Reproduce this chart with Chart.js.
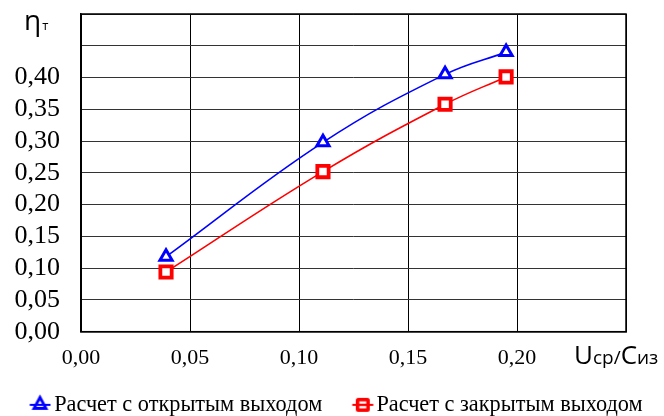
<!DOCTYPE html>
<html>
<head>
<meta charset="utf-8">
<script src="https://cdn.jsdelivr.net/npm/chart.js@4.4.1/dist/chart.umd.min.js"></script>
<style>
  html, body { margin: 0; padding: 0; background: #fff; }
  #wrap { width: 664px; height: 416px; position: relative; }
</style>
</head>
<body>
<div id="wrap"><canvas id="c" width="664" height="416"></canvas></div>
<script>
// ---- data ----
const xValues = [0.039, 0.111, 0.167, 0.195];
const openExit = [0.118, 0.298, 0.405, 0.440];
const closedExit = [0.094, 0.252, 0.358, 0.401];
const seriesNames = ['Расчет с открытым выходом', 'Расчет с закрытым выходом'];
const yTickValues = [0, 0.05, 0.10, 0.15, 0.20, 0.25, 0.30, 0.35, 0.40];
const xTickValues = [0, 0.05, 0.10, 0.15, 0.20];
const xTitle = ['U', 'ср/С', 'из'];
const yTitle = ['η', 'т'];

const fmt = v => v.toFixed(2).replace('.', ',');

function legendIcon(kind, color) {
  const c = document.createElement('canvas');
  c.width = 60; c.height = 22;
  const g = c.getContext('2d');
  g.strokeStyle = color;
  g.lineWidth = 2;
  if (kind === 'tri') {
    g.beginPath(); g.moveTo(33.5, 11); g.lineTo(54, 11); g.stroke();
    g.lineWidth = 2.8;
    g.beginPath(); g.moveTo(43.5, 3.5); g.lineTo(49.5, 14.5); g.lineTo(37.5, 14.5); g.closePath();
    g.stroke();
    g.lineWidth = 2;
    g.beginPath(); g.moveTo(33.5, 11); g.lineTo(54, 11); g.stroke();
  } else {
    g.beginPath(); g.moveTo(33.5, 11); g.lineTo(54.5, 11); g.stroke();
    g.fillStyle = color;
    g.beginPath(); g.roundRect(37, 4, 14, 14, 2.5); g.fill();
    g.fillStyle = '#fff';
    g.fillRect(40.5, 7.5, 7, 2.3); g.fillRect(40.5, 12.2, 7, 2.3);
  }
  return c;
}

const titlePlugin = {
  id: 'axisTitles',
  afterDraw(chart) {
    const ctx = chart.ctx;
    ctx.save();
    ctx.fillStyle = '#000';
    ctx.textBaseline = 'alphabetic';
    ctx.textAlign = 'left';
    // x title
    let x = 574, y = 364;
    ctx.font = '26px "Open Sans"';
    ctx.fillText(xTitle[0], x, y); x += ctx.measureText(xTitle[0]).width;
    ctx.font = '19px "Open Sans"';
    ctx.fillText(xTitle[1].slice(0, 3), x, y); x += ctx.measureText(xTitle[1].slice(0, 3)).width;
    ctx.font = '26px "Open Sans"';
    ctx.fillText(xTitle[1].slice(3), x, y); x += ctx.measureText(xTitle[1].slice(3)).width;
    ctx.font = '19px "Open Sans"';
    ctx.fillText(xTitle[2], x, y);
    // y title
    ctx.font = '28px "Open Sans"';
    ctx.fillText(yTitle[0], 24, 30);
    const w = ctx.measureText(yTitle[0]).width;
    ctx.font = '13px "Open Sans"';
    ctx.fillText(yTitle[1], 24 + w + 1, 30);
    ctx.restore();
  }
};

const ctx = document.getElementById('c').getContext('2d');
new Chart(ctx, {
  type: 'line',
  data: {
    datasets: [
      {
        label: seriesNames[0],
        data: xValues.map((x, i) => ({ x, y: openExit[i] })),
        borderColor: '#0000ff',
        backgroundColor: '#ffffff',
        borderWidth: 1.6,
        pointStyle: 'triangle',
        pointRadius: 7,
        pointBorderWidth: 3,
        pointBackgroundColor: '#ffffff',
        tension: 0.4,
        legendIcon: legendIcon('tri', '#0000ff')
      },
      {
        label: seriesNames[1],
        data: xValues.map((x, i) => ({ x, y: closedExit[i] })),
        borderColor: '#ff0000',
        backgroundColor: '#ffffff',
        borderWidth: 1.6,
        pointStyle: 'rect',
        pointRadius: 8,
        pointBorderWidth: 3.8,
        pointBackgroundColor: '#ffffff',
        tension: 0.4,
        legendIcon: legendIcon('sq', '#ff0000')
      }
    ]
  },
  options: {
    responsive: false,
    animation: false,
    layout: { padding: { left: 0, right: 0, top: 0, bottom: -10 } },
    plugins: {
      tooltip: { enabled: false },
      legend: {
        position: 'bottom',
        align: 'start',
        labels: {
          usePointStyle: true,
          pointStyleWidth: 33,
          padding: 10,
          color: '#000',
          font: { family: '"Liberation Serif"', size: 22.3 },
          generateLabels(chart) {
            return chart.data.datasets.map((ds, i) => ({
              text: ds.label,
              pointStyle: ds.legendIcon,
              fillStyle: ds.borderColor,
              strokeStyle: ds.borderColor,
              lineWidth: 0,
              hidden: false,
              datasetIndex: i,
              fontColor: '#000'
            }));
          }
        }
      }
    },
    scales: {
      x: {
        type: 'linear',
        min: 0, max: 0.25,
        afterFit(s) { s.height = 52; s.paddingLeft = 0; s.paddingRight = 38; },
        afterBuildTicks(s) { s.ticks = [...xTickValues, 0.25].map(v => ({ value: v })); },
        ticks: {
          autoSkip: false,
          maxRotation: 0,
          padding: 13,
          color: '#000',
          font: { family: '"Liberation Serif"', size: 22 },
          callback: v => (xTickValues.some(t => Math.abs(t - v) < 1e-9) ? fmt(v) : '')
        },
        grid: { color: '#000', lineWidth: 1, drawTicks: false },
        border: { color: '#000', width: 1.5 }
      },
      y: {
        type: 'linear',
        min: 0, max: 0.5,
        afterFit(s) { s.width = 81; s.paddingTop = 14; s.paddingBottom = 0; },
        afterBuildTicks(s) { s.ticks = [...yTickValues, 0.45, 0.5].map(v => ({ value: v })); },
        ticks: {
          autoSkip: false,
          padding: 21,
          color: '#000',
          font: { family: '"Liberation Serif"', size: 26 },
          callback: v => (yTickValues.some(t => Math.abs(t - v) < 1e-9) ? fmt(v) : '')
        },
        grid: { color: '#333', lineWidth: 1, drawTicks: false },
        border: { color: '#000', width: 1.5 }
      }
    }
  },
  plugins: [titlePlugin, {
    id: 'frame',
    afterDraw(chart) {
      const a = chart.chartArea, c = chart.ctx;
      c.save(); c.strokeStyle = '#000'; c.lineWidth = 1.5;
      c.strokeRect(a.left, a.top, a.right - a.left, a.bottom - a.top);
      c.restore();
    }
  }]
});
</script>
</body>
</html>
